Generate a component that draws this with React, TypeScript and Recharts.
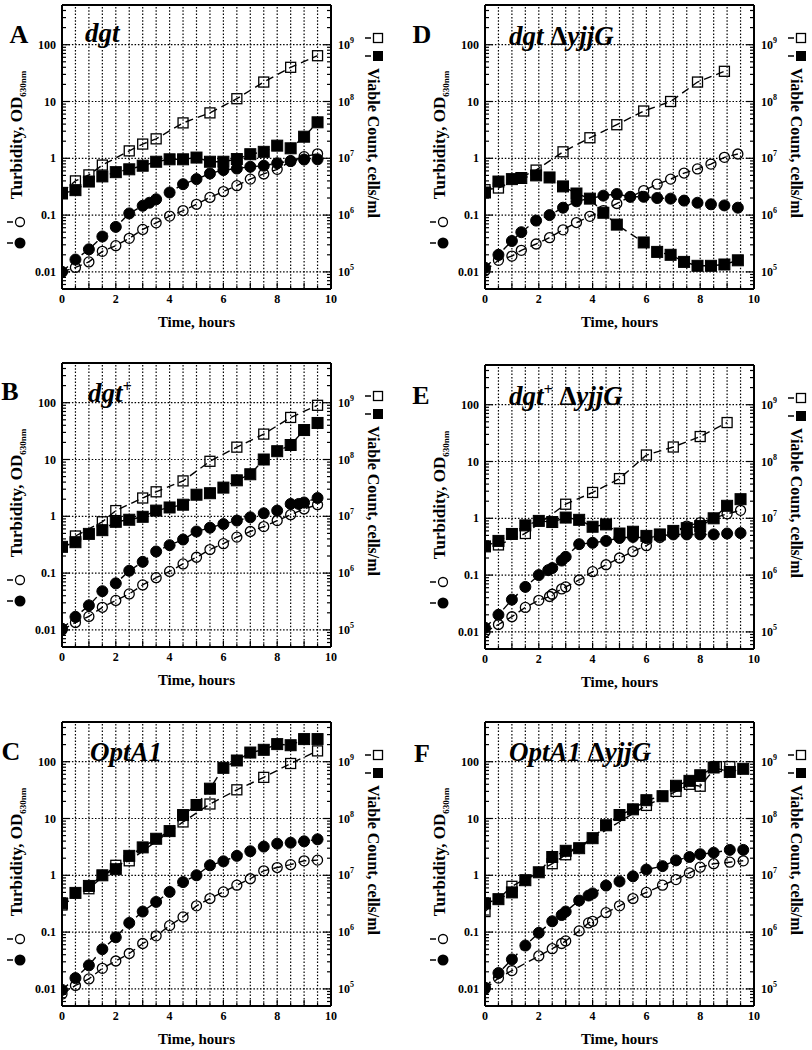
import React from "react";
import { ComposedChart, Line, XAxis, YAxis, ReferenceLine } from "recharts";

const FONT = '"Liberation Serif", "Times New Roman", Times, serif';

type Pt = [number, number];

// [time in hours, OD630] for circles, [time in hours, cells/ml] for squares
const A_OPEN_CIRCLES: Pt[] = [[0, 0.01], [0.5, 0.012], [1, 0.015], [1.5, 0.023], [2, 0.029], [2.5, 0.039], [3, 0.056], [3.5, 0.073], [4, 0.096], [4.5, 0.12], [5, 0.155], [5.5, 0.205], [6, 0.26], [6.5, 0.33], [7, 0.43], [7.5, 0.53], [8, 0.64], [8.5, 0.88], [9, 1.07], [9.5, 1.2]];
const A_FILLED_CIRCLES: Pt[] = [[0, 0.01], [0.5, 0.0165], [1, 0.025], [1.5, 0.042], [2, 0.062], [2.5, 0.107], [3, 0.146], [3.25, 0.165], [3.5, 0.19], [4, 0.25], [4.5, 0.35], [5, 0.43], [5.5, 0.54], [6, 0.62], [6.5, 0.66], [7, 0.71], [7.5, 0.74], [8, 0.82], [8.5, 0.9], [9, 0.95], [9.5, 0.96]];
const A_OPEN_SQUARES: Pt[] = [[0, 2.5e6], [0.5, 4e6], [1, 5.1e6], [1.5, 7.6e6], [2.5, 1.35e7], [3, 1.78e7], [3.5, 2.2e7], [4.5, 4.2e7], [5.5, 6.3e7], [6.5, 1.12e8], [7.5, 2.2e8], [8.5, 4e8], [9.5, 6.4e8]];
const A_FILLED_SQUARES: Pt[] = [[0, 2.4e6], [0.5, 2.75e6], [1, 3.9e6], [1.5, 4.8e6], [2, 5.7e6], [2.5, 6.4e6], [3, 7.4e6], [3.5, 8.7e6], [4, 9.6e6], [4.5, 9.6e6], [5, 1.03e7], [5.5, 8.7e6], [6, 8.7e6], [6.5, 9.7e6], [7, 1.18e7], [7.5, 1.3e7], [8, 1.67e7], [8.5, 1.5e7], [9, 2.4e7], [9.5, 4.3e7]];

const B_OPEN_CIRCLES: Pt[] = [[0, 0.01], [0.5, 0.0135], [1, 0.0173], [1.5, 0.025], [2, 0.033], [2.5, 0.043], [3, 0.062], [3.5, 0.083], [4, 0.107], [4.5, 0.145], [5, 0.19], [5.5, 0.26], [6, 0.33], [6.5, 0.43], [7, 0.54], [7.5, 0.66], [8, 0.84], [8.5, 1.07], [9, 1.35], [9.5, 1.6]];
const B_FILLED_CIRCLES: Pt[] = [[0, 0.0105], [0.5, 0.017], [1, 0.027], [1.5, 0.048], [2, 0.066], [2.5, 0.11], [3, 0.158], [3.5, 0.24], [4, 0.31], [4.5, 0.39], [5, 0.54], [5.5, 0.63], [6, 0.73], [6.5, 0.84], [7, 0.96], [7.5, 1.13], [8, 1.26], [8.5, 1.65], [8.8, 1.65], [9, 1.75], [9.5, 2.1]];
const B_OPEN_SQUARES: Pt[] = [[0.5, 4.5e6], [1.5, 8e6], [2, 1.26e7], [3, 2.1e7], [3.5, 2.7e7], [4.5, 4.2e7], [5.5, 9.3e7], [6.5, 1.65e8], [7.5, 2.8e8], [8.5, 5.5e8], [9.5, 9e8]];
const B_FILLED_SQUARES: Pt[] = [[0, 2.9e6], [0.5, 3.5e6], [1, 4.9e6], [1.5, 5.7e6], [2, 8e6], [2.5, 8.7e6], [3, 9.8e6], [3.5, 1.26e7], [4, 1.43e7], [4.5, 1.6e7], [5, 2.4e7], [5.5, 2.55e7], [6, 3.2e7], [6.5, 4.3e7], [7, 5.5e7], [7.5, 1e8], [8, 1.4e8], [8.5, 1.8e8], [9, 3.3e8], [9.5, 4.4e8]];

const C_OPEN_CIRCLES: Pt[] = [[0, 0.0081], [0.5, 0.0115], [1, 0.015], [1.5, 0.023], [2, 0.031], [2.5, 0.042], [3, 0.063], [3.5, 0.086], [4, 0.13], [4.5, 0.185], [5, 0.29], [5.5, 0.39], [6, 0.51], [6.5, 0.67], [7, 0.87], [7.5, 1.2], [8, 1.37], [8.5, 1.54], [9, 1.8], [9.5, 1.85]];
const C_FILLED_CIRCLES: Pt[] = [[0, 0.0096], [0.5, 0.0155], [1, 0.026], [1.5, 0.05], [2, 0.081], [2.5, 0.145], [3, 0.23], [3.5, 0.34], [4, 0.51], [4.5, 0.76], [5, 1.0], [5.5, 1.5], [6, 1.76], [6.5, 2.2], [7, 2.65], [7.5, 3.2], [8, 3.6], [8.5, 3.75], [9, 3.96], [9.5, 4.3]];
const C_OPEN_SQUARES: Pt[] = [[0, 3e6], [1, 5.8e6], [2, 1.5e7], [2.5, 1.8e7], [4.5, 8.7e7], [5.5, 1.8e8], [6.5, 3.2e8], [7.5, 5.3e8], [8.5, 9.3e8], [9.5, 1.55e9]];
const C_FILLED_SQUARES: Pt[] = [[0, 3.2e6], [0.5, 4.9e6], [1, 6.5e6], [1.5, 1e7], [2, 1.28e7], [2.5, 2.2e7], [3, 3.1e7], [3.5, 4.4e7], [4, 6e7], [4.5, 1.15e8], [5, 1.73e8], [5.5, 3.35e8], [6, 7.8e8], [6.5, 1.05e9], [7, 1.45e9], [7.5, 1.62e9], [8, 2.04e9], [8.5, 1.95e9], [9, 2.5e9], [9.5, 2.5e9]];

const D_OPEN_CIRCLES: Pt[] = [[0, 0.0105], [0.5, 0.016], [1, 0.019], [1.35, 0.024], [1.9, 0.031], [2.4, 0.04], [2.9, 0.055], [3.4, 0.074], [3.9, 0.095], [4.4, 0.12], [4.9, 0.16], [5.4, 0.21], [5.9, 0.27], [6.4, 0.35], [6.9, 0.43], [7.4, 0.55], [7.9, 0.65], [8.4, 0.79], [8.9, 1.04], [9.4, 1.19]];
const D_FILLED_CIRCLES: Pt[] = [[0, 0.0118], [0.5, 0.02], [1, 0.035], [1.35, 0.05], [1.9, 0.08], [2.4, 0.1], [2.9, 0.135], [3.4, 0.175], [4.4, 0.22], [4.9, 0.235], [5.4, 0.21], [5.9, 0.21], [6.4, 0.2], [6.9, 0.195], [7.4, 0.18], [7.9, 0.165], [8.4, 0.155], [8.9, 0.148], [9.4, 0.135]];
const D_OPEN_SQUARES: Pt[] = [[0, 2.8e6], [0.5, 3e6], [1.9, 6.2e6], [2.9, 1.3e7], [3.9, 2.3e7], [4.9, 3.9e7], [5.9, 6.8e7], [6.9, 1e8], [7.9, 2.2e8], [8.9, 3.4e8]];
const D_FILLED_SQUARES: Pt[] = [[0, 2.5e6], [0.5, 3.9e6], [1, 4.3e6], [1.35, 4.5e6], [1.9, 5e6], [2.4, 4.6e6], [2.9, 3.2e6], [3.4, 2.4e6], [3.9, 1.95e6], [4.4, 1.1e6], [4.9, 6.8e5], [5.9, 3.3e5], [6.4, 2.25e5], [6.9, 2e5], [7.4, 1.5e5], [7.9, 1.28e5], [8.4, 1.28e5], [8.9, 1.35e5], [9.4, 1.6e5]];

const E_OPEN_CIRCLES: Pt[] = [[0, 0.01], [0.5, 0.0135], [1, 0.0185], [1.5, 0.027], [2, 0.036], [2.4, 0.042], [2.5, 0.046], [2.85, 0.057], [3, 0.062], [3.5, 0.082], [4, 0.115], [4.5, 0.152], [5, 0.2], [5.5, 0.26], [6, 0.33], [6.5, 0.46], [7, 0.58], [7.5, 0.73], [8, 0.84], [9, 1.2], [9.5, 1.38]];
const E_FILLED_CIRCLES: Pt[] = [[0, 0.0118], [0.5, 0.02], [1, 0.037], [1.5, 0.062], [2, 0.1], [2.35, 0.122], [2.5, 0.133], [2.85, 0.18], [3, 0.21], [3.5, 0.35], [4, 0.37], [4.5, 0.4], [5, 0.45], [5.5, 0.47], [6, 0.45], [6.5, 0.49], [7, 0.52], [7.5, 0.52], [8, 0.52], [8.5, 0.52], [9, 0.54], [9.5, 0.55]];
const E_OPEN_SQUARES: Pt[] = [[0.5, 3.4e6], [1.5, 5.4e6], [3, 1.77e7], [4, 2.85e7], [5, 5e7], [6, 1.3e8], [7, 1.8e8], [8, 2.75e8], [9, 4.85e8]];
const E_FILLED_SQUARES: Pt[] = [[0, 3.2e6], [0.5, 4e6], [1, 5.3e6], [1.5, 7.5e6], [2, 9e6], [2.5, 8.6e6], [3, 1.03e7], [3.5, 9.4e6], [4, 7.1e6], [4.5, 7.8e6], [5, 5.4e6], [5.5, 5.8e6], [6, 4.9e6], [6.5, 5.2e6], [7, 6e6], [7.5, 6.7e6], [8, 7.3e6], [8.5, 1e7], [9, 1.66e7], [9.5, 2.17e7]];

const F_OPEN_CIRCLES: Pt[] = [[0, 0.01], [0.5, 0.0155], [1, 0.021], [2, 0.038], [2.5, 0.051], [2.85, 0.063], [3, 0.07], [3.5, 0.105], [3.85, 0.145], [4, 0.155], [4.5, 0.22], [5, 0.29], [5.5, 0.39], [6, 0.5], [6.6, 0.67], [7.1, 0.84], [7.6, 1.1], [8, 1.39], [8.5, 1.6], [9.1, 1.7], [9.6, 1.8]];
const F_FILLED_CIRCLES: Pt[] = [[0, 0.0105], [0.5, 0.019], [1, 0.033], [1.5, 0.058], [2, 0.097], [2.5, 0.155], [2.85, 0.2], [3, 0.23], [3.5, 0.36], [3.85, 0.44], [4, 0.48], [4.5, 0.66], [5, 0.78], [5.5, 0.96], [6, 1.26], [6.6, 1.45], [7.1, 1.83], [7.6, 2.1], [8, 2.35], [8.5, 2.5], [9.1, 2.8], [9.6, 2.8]];
const F_OPEN_SQUARES: Pt[] = [[0, 2.3e6], [1, 6.4e6], [2.5, 1.6e7], [3, 2.3e7], [6, 1.7e8], [7.1, 3e8], [7.6, 4e8], [8, 3.7e8], [8.6, 8.2e8], [9.1, 8.2e8]];
const F_FILLED_SQUARES: Pt[] = [[0, 3.2e6], [0.5, 3.8e6], [1, 5e6], [1.5, 8.2e6], [2, 1.13e7], [2.5, 2.1e7], [3, 2.7e7], [3.5, 3e7], [4, 4.5e7], [4.5, 7.6e7], [5, 1.15e8], [5.5, 1.45e8], [6, 2.1e8], [6.6, 2.47e8], [7.1, 3.77e8], [7.6, 4.6e8], [8, 5.77e8], [8.5, 7.9e8], [9.1, 6.6e8], [9.6, 7.5e8]];

const HALF_HOURS = [0, 0.5, 1, 1.5, 2, 2.5, 3, 3.5, 4, 4.5, 5, 5.5, 6, 6.5, 7, 7.5, 8, 8.5, 9, 9.5, 10];
const HOUR_LABELS = [0, 2, 4, 6, 8, 10];
const OD_MAJOR = [0.01, 0.1, 1, 10, 100];
const COUNT_MAJOR = [1e5, 1e6, 1e7, 1e8, 1e9];
const OD_DOMAIN: [number, number] = [0.005, 500];
const COUNT_DOMAIN: [number, number] = [5e4, 5e9];

function withMinors(majors: number[], lo: number, hi: number): number[] {
  const out: number[] = [];
  [majors[0] / 10, ...majors].forEach((d) => {
    for (let k = 1; k <= 9; k++) {
      const v = k * d;
      if (v >= lo * 0.999 && v <= hi * 1.001) out.push(v);
    }
  });
  return out;
}

const OD_TICKS = withMinors(OD_MAJOR, OD_DOMAIN[0], OD_DOMAIN[1]);
const COUNT_TICKS = withMinors(COUNT_MAJOR, COUNT_DOMAIN[0], COUNT_DOMAIN[1]);

const isDecade = (v: number) => Math.abs(Math.log10(v) - Math.round(Math.log10(v))) < 1e-6;

const rows = (pts: Pt[]) => pts.map(([t, v]) => ({ t, v }));

const LEFT_MARGIN = 6;
const RIGHT_MARGIN = 7;

function OdTick(props: any) {
  const { x, y, payload } = props;
  const v = payload.value;
  const major = isDecade(v);
  const edge = x + LEFT_MARGIN;
  return (
    <g>
      <line x1={edge} x2={edge + (major ? 8 : 4)} y1={y} y2={y} stroke="#000" strokeWidth={1.2} />
      {major && (
        <text x={x} y={y + 4} textAnchor="end" fontSize={12} fontWeight="bold" fontFamily={FONT} fill="#000">
          {String(v)}
        </text>
      )}
    </g>
  );
}

function CountTick(props: any) {
  const { x, y, payload } = props;
  const v = payload.value;
  const major = isDecade(v);
  const edge = x - RIGHT_MARGIN;
  return (
    <g>
      <line x1={edge} x2={edge - (major ? 8 : 4)} y1={y} y2={y} stroke="#000" strokeWidth={1.2} />
      {major && (
        <text x={x} y={y + 4} textAnchor="start" fontSize={12} fontWeight="bold" fontFamily={FONT} fill="#000">
          10
          <tspan dy={-6} fontSize={8}>
            {Math.round(Math.log10(v))}
          </tspan>
        </text>
      )}
    </g>
  );
}

function BottomTick(props: any) {
  const { x, y, payload } = props;
  const v = payload.value;
  const major = Number.isInteger(v);
  return (
    <g>
      <line x1={x} x2={x} y1={y} y2={y - (major ? 6 : 3)} stroke="#000" strokeWidth={1.2} />
      {HOUR_LABELS.includes(v) && (
        <text x={x} y={y + 14} textAnchor="middle" fontSize={12} fontWeight="bold" fontFamily={FONT} fill="#000">
          {v}
        </text>
      )}
    </g>
  );
}

function TopTick(props: any) {
  const { x, y, payload } = props;
  const major = Number.isInteger(payload.value);
  return <line x1={x} x2={x} y1={y} y2={y + (major ? 6 : 3)} stroke="#000" strokeWidth={1.2} />;
}

const openCircle = (p: any) => <circle key={`oc${p.index}`} cx={p.cx} cy={p.cy} r={5} fill="none" stroke="#000" strokeWidth={1.3} />;
const filledCircle = (p: any) => <circle key={`fc${p.index}`} cx={p.cx} cy={p.cy} r={5.5} fill="#000" stroke="#000" strokeWidth={1} />;
const openSquare = (p: any) => <rect key={`os${p.index}`} x={p.cx - 5} y={p.cy - 5} width={10} height={10} fill="none" stroke="#000" strokeWidth={1.3} />;
const filledSquare = (p: any) => <rect key={`fs${p.index}`} x={p.cx - 5.5} y={p.cy - 5.5} width={11} height={11} fill="#000" stroke="#000" strokeWidth={1} />;

function LegendIcon({ kind }: { kind: "oc" | "fc" | "os" | "fs" }) {
  return (
    <svg width={20} height={14} style={{ display: "block" }}>
      <line x1={0} x2={6} y1={7} y2={7} stroke="#000" strokeWidth={1.5} />
      {kind === "oc" && <circle cx={13} cy={7} r={4.5} fill="none" stroke="#000" strokeWidth={1.3} />}
      {kind === "fc" && <circle cx={13} cy={7} r={5.5} fill="#000" />}
      {kind === "os" && <rect x={8.5} y={2.5} width={9} height={9} fill="none" stroke="#000" strokeWidth={1.3} />}
      {kind === "fs" && <rect x={8} y={2} width={10} height={10} fill="#000" />}
    </svg>
  );
}

interface PanelCfg {
  letter: string;
  title: React.ReactNode;
  left: number;
  top: number;
  col: 0 | 1;
  letterX: number;
  letterY: number;
  titleX: number;
  titleY: number;
  openCircles: Pt[];
  filledCircles: Pt[];
  openSquares: Pt[];
  filledSquares: Pt[];
}

const DELTA = <span style={{ fontStyle: "normal" }}>Δ</span>;

const PANELS: PanelCfg[] = [
  { letter: "A", title: <>dgt</>, left: 0, top: 0, col: 0, letterX: 19, letterY: 35, titleX: 85, titleY: 33, openCircles: A_OPEN_CIRCLES, filledCircles: A_FILLED_CIRCLES, openSquares: A_OPEN_SQUARES, filledSquares: A_FILLED_SQUARES },
  { letter: "B", title: <>dgt<sup style={{ fontSize: 16 }}>+</sup></>, left: 0, top: 358, col: 0, letterX: 10, letterY: 34, titleX: 88, titleY: 35, openCircles: B_OPEN_CIRCLES, filledCircles: B_FILLED_CIRCLES, openSquares: B_OPEN_SQUARES, filledSquares: B_FILLED_SQUARES },
  { letter: "C", title: <>OptA1</>, left: 0, top: 717, col: 0, letterX: 11, letterY: 35, titleX: 90, titleY: 35, openCircles: C_OPEN_CIRCLES, filledCircles: C_FILLED_CIRCLES, openSquares: C_OPEN_SQUARES, filledSquares: C_FILLED_SQUARES },
  { letter: "D", title: <>dgt {DELTA}yjjG</>, left: 406, top: 0, col: 1, letterX: 16, letterY: 35, titleX: 103, titleY: 36, openCircles: D_OPEN_CIRCLES, filledCircles: D_FILLED_CIRCLES, openSquares: D_OPEN_SQUARES, filledSquares: D_FILLED_SQUARES },
  { letter: "E", title: <>dgt<sup style={{ fontSize: 16 }}>+</sup> {DELTA}yjjG</>, left: 406, top: 360, col: 1, letterX: 15, letterY: 36, titleX: 103, titleY: 36, openCircles: E_OPEN_CIRCLES, filledCircles: E_FILLED_CIRCLES, openSquares: E_OPEN_SQUARES, filledSquares: E_FILLED_SQUARES },
  { letter: "F", title: <>OptA1 {DELTA}yjjG</>, left: 406, top: 717, col: 1, letterX: 16, letterY: 37, titleX: 103, titleY: 35, openCircles: F_OPEN_CIRCLES, filledCircles: F_FILLED_CIRCLES, openSquares: F_OPEN_SQUARES, filledSquares: F_FILLED_SQUARES },
];

const W = 406;
const H = 340;

function Panel({ p }: { p: PanelCfg }) {
  const leftW = p.col === 0 ? 62 : 79;
  const rightW = p.col === 0 ? 75 : 58;
  const plotW = W - leftW - rightW;
  const shift = p.col === 0 ? 0 : 17;
  const lineProps = {
    xAxisId: "t",
    dataKey: "v",
    type: "linear" as const,
    stroke: "#000",
    strokeWidth: 1.4,
    strokeDasharray: "8 5",
    activeDot: false as const,
    isAnimationActive: false,
    legendType: "none" as const,
  };
  const abs: React.CSSProperties = { position: "absolute", whiteSpace: "nowrap", fontFamily: FONT, color: "#000", lineHeight: 1 };

  return (
    <div style={{ position: "absolute", left: p.left, top: p.top, width: W, height: H }}>
      <ComposedChart width={W} height={H} margin={{ top: 4, right: 0, bottom: 0, left: 0 }}>
        <XAxis
          xAxisId="t"
          type="number"
          dataKey="t"
          domain={[0, 10]}
          allowDataOverflow
          ticks={HALF_HOURS}
          interval={0}
          height={51}
          tickSize={0}
          tickMargin={0}
          tickLine={false}
          axisLine={{ stroke: "#000", strokeWidth: 2 }}
          tick={<BottomTick />}
        />
        <XAxis
          xAxisId="top"
          orientation="top"
          type="number"
          domain={[0, 10]}
          allowDataOverflow
          ticks={HALF_HOURS}
          interval={0}
          height={1}
          tickSize={0}
          tickMargin={0}
          tickLine={false}
          axisLine={{ stroke: "#000", strokeWidth: 2 }}
          tick={<TopTick />}
        />
        <YAxis
          yAxisId="od"
          orientation="left"
          type="number"
          scale="log"
          domain={OD_DOMAIN}
          allowDataOverflow
          ticks={OD_TICKS}
          interval={0}
          width={leftW}
          tickSize={0}
          tickMargin={LEFT_MARGIN}
          tickLine={false}
          axisLine={{ stroke: "#000", strokeWidth: 2 }}
          tick={<OdTick />}
        />
        <YAxis
          yAxisId="cfu"
          orientation="right"
          type="number"
          scale="log"
          domain={COUNT_DOMAIN}
          allowDataOverflow
          ticks={COUNT_TICKS}
          interval={0}
          width={rightW}
          tickSize={0}
          tickMargin={RIGHT_MARGIN}
          tickLine={false}
          axisLine={{ stroke: "#000", strokeWidth: 2 }}
          tick={<CountTick />}
        />
        {HALF_HOURS.slice(1, -1).map((h) => (
          <ReferenceLine key={`gx${h}`} xAxisId="t" yAxisId="od" x={h} stroke="#000" strokeWidth={1.2} strokeDasharray="1.5 1.8" />
        ))}
        {OD_MAJOR.map((v) => (
          <ReferenceLine key={`gy${v}`} xAxisId="t" yAxisId="od" y={v} stroke="#000" strokeWidth={1.2} strokeDasharray="1.5 1.8" />
        ))}
        <Line {...lineProps} yAxisId="cfu" data={rows(p.openSquares)} dot={openSquare} />
        <Line {...lineProps} yAxisId="cfu" data={rows(p.filledSquares)} dot={filledSquare} />
        <Line {...lineProps} yAxisId="od" data={rows(p.openCircles)} dot={openCircle} />
        <Line {...lineProps} yAxisId="od" data={rows(p.filledCircles)} dot={filledCircle} />
      </ComposedChart>

      <div style={{ ...abs, left: p.letterX, top: p.letterY, transform: "translate(-50%, -50%)", fontSize: 26, fontWeight: "bold" }}>
        {p.letter}
      </div>
      <div style={{ ...abs, left: p.titleX, top: p.titleY, transform: "translateY(-50%)", fontSize: 27, fontWeight: "bold", fontStyle: "italic" }}>
        {p.title}
      </div>

      <div style={{ ...abs, left: 18 + shift, top: 135, transform: "translate(-50%, -50%) rotate(-90deg)", fontSize: 17, fontWeight: "bold" }}>
        Turbidity, OD<sub style={{ fontSize: 9 }}>630nm</sub>
      </div>
      <div style={{ ...abs, left: 7 + shift, top: 215 }}>
        <LegendIcon kind="oc" />
      </div>
      <div style={{ ...abs, left: 7 + shift, top: 236 }}>
        <LegendIcon kind="fc" />
      </div>

      <div style={{ ...abs, left: leftW + plotW + 34, top: 31 }}>
        <LegendIcon kind="os" />
      </div>
      <div style={{ ...abs, left: leftW + plotW + 34, top: 49 }}>
        <LegendIcon kind="fs" />
      </div>
      <div style={{ ...abs, left: leftW + plotW + 42, top: 143, transform: "translate(-50%, -50%) rotate(90deg)", fontSize: 16, fontWeight: "bold" }}>
        Viable Count, cells/ml
      </div>

      <div style={{ ...abs, left: leftW + plotW / 2, top: 322, transform: "translate(-50%, -50%)", fontSize: 15, fontWeight: "bold" }}>
        Time, hours
      </div>
    </div>
  );
}

export default function App() {
  return (
    <div style={{ position: "absolute", left: 0, top: 0, width: 812, height: 1050, background: "#fff" }}>
      {PANELS.map((p) => (
        <Panel key={p.letter} p={p} />
      ))}
    </div>
  );
}
